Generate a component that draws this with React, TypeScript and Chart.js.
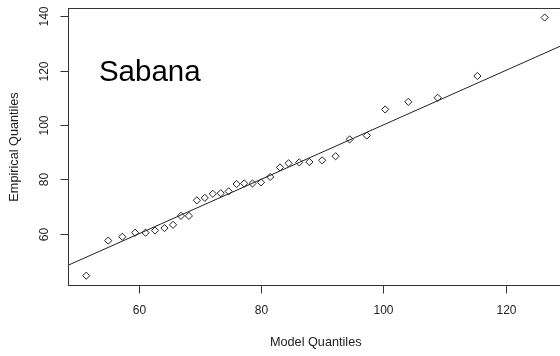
import React, { useEffect, useRef } from "react";
import { Chart, registerables } from "chart.js";

Chart.register(...registerables);

// Model (theoretical) quantiles vs. empirical quantiles, site "Sabana"
const modelQuantiles = [
  51.4, 55.0, 57.3, 59.4, 61.1, 62.65, 64.2, 65.6, 66.9, 68.2, 69.5,
  70.8, 72.1, 73.4, 74.7, 76.0, 77.25, 78.6, 80.0, 81.5, 83.1, 84.5,
  86.25, 87.9, 90.0, 92.2, 94.5, 97.3, 100.3, 104.1, 108.9, 115.4, 126.4,
];
const empiricalQuantiles = [
  44.6, 57.5, 58.9, 60.4, 60.4, 61.2, 62.1, 63.3, 66.6, 66.6, 72.3,
  73.2, 74.7, 74.9, 75.6, 78.3, 78.5, 78.5, 78.9, 80.9, 84.4, 85.9,
  86.25, 86.4, 87.0, 88.5, 94.7, 96.1, 105.7, 108.5, 110.0, 118.0, 139.5,
];

const xTicks = [60, 80, 100, 120];
const yTicks = [60, 80, 100, 120, 140];
const xRange = [48.5, 129.4];
const yRange = [41, 142.8];

const xTitle = "Model Quantiles";
const yTitle = "Empirical Quantiles";
const panelLabel = "Sabana";
const panelLabelPos = { x: 61.8, y: 116.1 };

const FONT = "'Liberation Sans', Arial, sans-serif";
const INK = "#222";

// R-style frame, ticks, labels and panel caption
const rAxesPlugin = {
  id: "rAxes",
  afterDraw(chart: any) {
    const { ctx, chartArea: a, scales } = chart;
    const xs = scales.x;
    const ys = scales.y;
    ctx.save();
    ctx.strokeStyle = "#333";
    ctx.lineWidth = 1;
    ctx.strokeRect(a.left, a.top, a.right - a.left, a.bottom - a.top);

    ctx.fillStyle = INK;
    ctx.font = `12px ${FONT}`;
    ctx.textAlign = "center";
    ctx.textBaseline = "middle";

    // x-axis ticks
    xTicks.forEach((t) => {
      const px = Math.round(xs.getPixelForValue(t)) + 0.5;
      ctx.beginPath();
      ctx.moveTo(px, a.bottom);
      ctx.lineTo(px, a.bottom + 8);
      ctx.stroke();
      ctx.fillText(String(t), px, a.bottom + 25);
    });

    // y-axis ticks, labels rotated
    yTicks.forEach((t) => {
      const py = Math.round(ys.getPixelForValue(t)) + 0.5;
      ctx.beginPath();
      ctx.moveTo(a.left, py);
      ctx.lineTo(a.left - 8, py);
      ctx.stroke();
      ctx.save();
      ctx.translate(a.left - 23.5, py);
      ctx.rotate(-Math.PI / 2);
      ctx.fillText(String(t), 0, 0);
      ctx.restore();
    });

    // axis titles
    ctx.font = `12.7px ${FONT}`;
    ctx.textBaseline = "alphabetic";
    ctx.fillText(xTitle, (a.left + a.right) / 2, a.bottom + 60.5);
    ctx.save();
    ctx.translate(17.5, (a.top + a.bottom) / 2);
    ctx.rotate(-Math.PI / 2);
    ctx.fillText(yTitle, 0, 0);
    ctx.restore();

    // panel caption
    ctx.fillStyle = "#000";
    ctx.font = `29.5px ${FONT}`;
    ctx.fillText(
      panelLabel,
      xs.getPixelForValue(panelLabelPos.x),
      ys.getPixelForValue(panelLabelPos.y)
    );
    ctx.restore();
  },
};

export default function App() {
  const ref = useRef<HTMLCanvasElement | null>(null);

  useEffect(() => {
    if (!ref.current) return;
    const points = modelQuantiles.map((x, i) => ({ x, y: empiricalQuantiles[i] }));
    const chart = new Chart(ref.current, {
      type: "scatter",
      data: {
        datasets: [
          {
            // 1:1 reference line across the full x range
            type: "line",
            data: xRange.map((v) => ({ x: v, y: v })),
            borderColor: "#222",
            borderWidth: 1,
            pointRadius: 0,
            fill: false,
          } as any,
          {
            data: points,
            pointStyle: "rectRot",
            pointRadius: 3.6,
            pointBorderWidth: 1,
            pointBorderColor: "#222",
            pointBackgroundColor: "rgba(0,0,0,0)",
          },
        ],
      },
      options: {
        responsive: false,
        animation: false,
        layout: { padding: { left: 68.5, top: 8.5, right: 7, bottom: 70.5 } },
        plugins: { legend: { display: false }, tooltip: { enabled: false } },
        scales: {
          x: { type: "linear", display: false, min: xRange[0], max: xRange[1] },
          y: { type: "linear", display: false, min: yRange[0], max: yRange[1] },
        },
      },
      plugins: [rAxesPlugin],
    });
    return () => chart.destroy();
  }, []);

  return (
    <div
      style={{
        position: "fixed",
        left: 0,
        top: 0,
        width: 560,
        height: 356,
        overflow: "hidden",
        background: "#fff",
      }}
    >
      <canvas ref={ref} width={570} height={356} style={{ display: "block" }} />
    </div>
  );
}
